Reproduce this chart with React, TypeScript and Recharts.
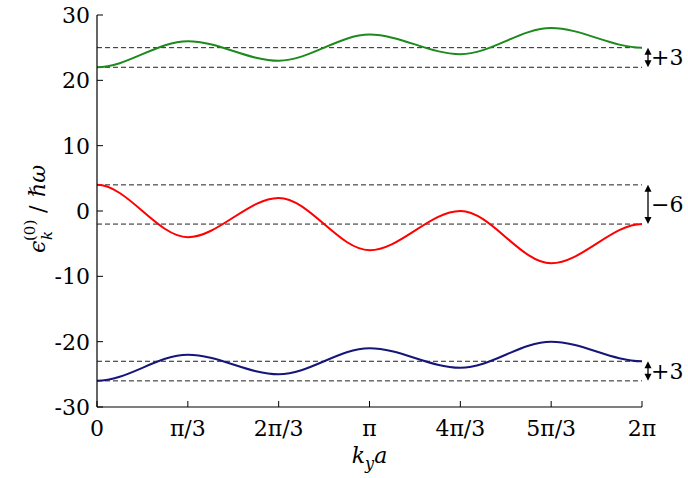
import { LineChart, Line, XAxis, YAxis, ReferenceLine } from 'recharts';

// k_y a sampled at multiples of π/3 (every sample is a band extremum)
const kSteps = [0, 1, 2, 3, 4, 5, 6];
const xTickLabels = ['0', 'π/3', '2π/3', 'π', '4π/3', '5π/3', '2π'];
const yTicks = [-30, -20, -10, 0, 10, 20, 30];

const upperBand = [22, 26, 23, 27, 24, 28, 25];
const middleBand = [4, -4, 2, -6, 0, -8, -2];
const lowerBand = [-26, -22, -25, -21, -24, -20, -23];

const bands = [
  { key: 'upper', values: upperBand, color: '#1c8a1c' },
  { key: 'middle', values: middleBand, color: '#ff0000' },
  { key: 'lower', values: lowerBand, color: '#15157a' },
];

const data = kSteps.map((k, i) => ({
  k,
  upper: upperBand[i],
  middle: middleBand[i],
  lower: lowerBand[i],
}));

const SERIF = 'DejaVu Serif';
const FS = 22;
const txt = { fontFamily: SERIF, fontSize: FS, fill: '#000' };

// cubic pieces with horizontal tangents at every sample point
const flatTangentCurve = (context: any) => {
  let px = 0;
  let py = 0;
  let n = 0;
  return {
    areaStart() {},
    areaEnd() {},
    lineStart() {
      n = 0;
    },
    lineEnd() {},
    point(x: number, y: number) {
      x = +x;
      y = +y;
      if (n === 0) context.moveTo(x, y);
      else {
        const h = (x - px) / 3;
        context.bezierCurveTo(px + h, py, x - h, y, x, y);
      }
      px = x;
      py = y;
      n += 1;
    },
  };
};

const BottomTick = ({ x, y, payload }: any) => (
  <g>
    <line x1={x} y1={y} x2={x} y2={y - 6} stroke="#000" />
    <text x={x} y={y + 29} textAnchor="middle" fontFamily={SERIF} fontSize={FS} style={txt}>
      {xTickLabels[payload.value]}
    </text>
  </g>
);

const TopTick = ({ x, y }: any) => <line x1={x} y1={y} x2={x} y2={y + 6} stroke="#000" />;

const LeftTick = ({ x, y, payload }: any) => (
  <g>
    <line x1={x} y1={y} x2={x + 6} y2={y} stroke="#000" />
    <text x={x - 7} y={y + 8} textAnchor="end" fontFamily={SERIF} fontSize={FS} style={txt}>
      {String(payload.value)}
    </text>
  </g>
);

const RightTick = ({ x, y }: any) => <line x1={x} y1={y} x2={x - 6} y2={y} stroke="#000" />;

const XLabel = ({ viewBox }: any) => (
  <text
    x={viewBox.x + viewBox.width / 2}
    y={463}
    textAnchor="middle"
    fontFamily={SERIF}
    fontSize={FS}
    fontStyle="italic"
    style={{ ...txt, fontStyle: 'italic' }}
  >
    <tspan>k</tspan>
    <tspan fontSize={16} dy={6}>y</tspan>
    <tspan dy={-6}>a</tspan>
  </text>
);

const YLabel = ({ viewBox }: any) => {
  const cx = 45;
  const cy = viewBox.y + viewBox.height / 2 - 4;
  return (
    <text transform={`translate(${cx},${cy}) rotate(-90)`} fontFamily={SERIF} fontSize={FS} style={txt}>
      <tspan x={-46} fontStyle="italic">ϵ</tspan>
      <tspan x={-34} dy={-10} fontSize={15}>(0)</tspan>
      <tspan x={-33} dy={17} fontSize={15} fontStyle="italic">k</tspan>
      <tspan x={-6} dy={-7}>/</tspan>
      <tspan x={10} fontStyle="italic">ℏω</tspan>
    </text>
  );
};

const gapLabel = (d: number) => (d > 0 ? `+${d}` : `−${-d}`);

// double arrow just outside the right spine, spanning a band's start and end level
const gapArrow = (label: string) => (props: any) => {
  const { x1, y1, y2 } = props;
  const ax = x1 + 6;
  const top = Math.min(y1, y2);
  const bot = Math.max(y1, y2);
  return (
    <g>
      <line x1={ax} y1={top + 4} x2={ax} y2={bot - 4} stroke="#000" strokeWidth={1.3} />
      <path d={`M${ax},${top} l-3.5,7 h7 z`} fill="#000" />
      <path d={`M${ax},${bot} l-3.5,-7 h7 z`} fill="#000" />
      <text x={ax + 3} y={(top + bot) / 2 + 8} fontFamily={SERIF} fontSize={FS} style={txt}>
        {label}
      </text>
    </g>
  );
};

export default function App() {
  const last = kSteps[kSteps.length - 1];
  return (
    <div style={{ position: 'absolute', left: 0, top: 0, background: '#fff', fontFamily: SERIF }}>
      <LineChart width={688} height={478} data={data} margin={{ top: 15, right: 46, bottom: 0, left: 0 }}>
        <XAxis
          dataKey="k"
          type="number"
          domain={[0, last]}
          ticks={kSteps}
          interval={0}
          height={71}
          tickSize={0}
          tickMargin={0}
          tickLine={false}
          axisLine={{ stroke: '#000', strokeWidth: 1.2 }}
          tick={<BottomTick />}
          label={<XLabel />}
        />
        <XAxis
          xAxisId="top"
          orientation="top"
          dataKey="k"
          type="number"
          domain={[0, last]}
          ticks={kSteps}
          interval={0}
          height={0}
          tickSize={0}
          tickMargin={0}
          tickLine={false}
          axisLine={{ stroke: '#000', strokeWidth: 1.2 }}
          tick={<TopTick />}
        />
        <YAxis
          type="number"
          domain={[-30, 30]}
          ticks={yTicks}
          interval={0}
          width={97}
          tickSize={0}
          tickMargin={0}
          tickLine={false}
          axisLine={{ stroke: '#000', strokeWidth: 1.2 }}
          tick={<LeftTick />}
          label={<YLabel />}
        />
        <YAxis
          yAxisId="right"
          orientation="right"
          type="number"
          domain={[-30, 30]}
          ticks={yTicks}
          interval={0}
          width={0}
          tickSize={0}
          tickMargin={0}
          tickLine={false}
          axisLine={{ stroke: '#000', strokeWidth: 1.2 }}
          tick={<RightTick />}
        />
        {bands.map((b) => [b.values[0], b.values[b.values.length - 1]]).flat().map((level, i) => (
          <ReferenceLine key={`lvl-${i}`} y={level} stroke="#222" strokeWidth={1} strokeDasharray="5 3" />
        ))}
        {bands.map((b) => {
          const start = b.values[0];
          const end = b.values[b.values.length - 1];
          return (
            <ReferenceLine
              key={`gap-${b.key}`}
              segment={[{ x: last, y: start }, { x: last, y: end }]}
              ifOverflow="visible"
              shape={gapArrow(gapLabel(end - start))}
            />
          );
        })}
        {bands.map((b) => (
          <Line
            key={b.key}
            dataKey={b.key}
            type={flatTangentCurve as any}
            stroke={b.color}
            strokeWidth={2}
            dot={false}
            activeDot={false}
            isAnimationActive={false}
          />
        ))}
      </LineChart>
    </div>
  );
}
